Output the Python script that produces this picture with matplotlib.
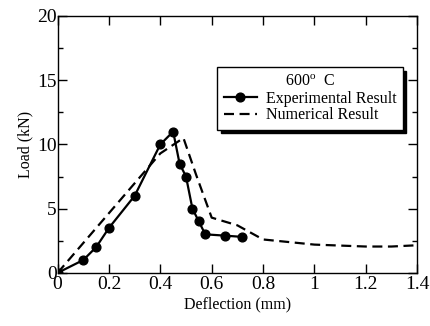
import matplotlib
matplotlib.use("Agg")
import matplotlib.pyplot as plt
from matplotlib.ticker import MultipleLocator

plt.rcParams['font.family'] = ['Liberation Serif', 'DejaVu Serif']
plt.rcParams['mathtext.fontset'] = 'custom'
plt.rcParams['mathtext.rm'] = 'Liberation Serif'

# Experimental data
exp_x = [0.0, 0.1, 0.15, 0.2, 0.3, 0.4, 0.45, 0.475, 0.5, 0.525, 0.55, 0.575, 0.65, 0.72]
exp_y = [0.0, 1.0, 2.0, 3.5, 6.0, 10.0, 11.0, 8.5, 7.5, 5.0, 4.0, 3.0, 2.9, 2.8]

# Numerical data
num_x = [0.0, 0.4, 0.49, 0.54, 0.6, 0.7, 0.8, 1.0, 1.2, 1.3, 1.4]
num_y = [0.0, 9.3, 10.5, 7.6, 4.3, 3.7, 2.6, 2.2, 2.05, 2.05, 2.15]

x_ticks = [0, 0.2, 0.4, 0.6, 0.8, 1, 1.2, 1.4]
x_ticklabels = ['0', '0.2', '0.4', '0.6', '0.8', '1', '1.2', '1.4']
y_ticks = [0, 5, 10, 15, 20]

fig = plt.figure(figsize=(4.3, 3.26), dpi=100)
ax = fig.add_axes([0.134, 0.163, 0.836, 0.788])

ax.plot(exp_x, exp_y, '-o', color='black', lw=1.6, markersize=6.3,
        label='Experimental Result')
ax.plot(num_x, num_y, color='black', lw=1.6, linestyle=(0, (4.5, 2.5)),
        label='Numerical Result')

ax.set_xlim(0, 1.4)
ax.set_ylim(0, 20)
ax.set_xticks(x_ticks)
ax.set_xticklabels(x_ticklabels)
ax.set_yticks(y_ticks)
ax.yaxis.set_minor_locator(MultipleLocator(2.5))

ax.tick_params(which='both', direction='in', top=True, right=True,
               labelsize=14)
ax.tick_params(axis='x', pad=2)
ax.tick_params(axis='y', pad=0.5)
ax.tick_params(which='major', length=6.5, width=1)
ax.tick_params(which='minor', length=3.5, width=1)
ax.tick_params(axis='x', which='minor', top=False, bottom=False)
for s in ax.spines.values():
    s.set_linewidth(1.0)

ax.set_xlabel('Deflection (mm)', fontsize=11.5, labelpad=3)
ax.set_ylabel('Load (kN)', fontsize=11.5, labelpad=3)

leg = ax.legend(title='600$^\\mathrm{o}$  C', loc='upper left',
                bbox_to_anchor=(0.444, 0.80), borderaxespad=0,
                fontsize=11.5, title_fontsize=11.5, fancybox=False,
                edgecolor='black', framealpha=1, handlelength=2.1,
                handletextpad=0.55, labelspacing=0.05, borderpad=0.4,
                shadow={'color': 'black', 'alpha': 1, 'ox': 2.5, 'oy': -2.5})
leg.get_frame().set_linewidth(1.0)

fig.savefig('out.png', dpi=100)
